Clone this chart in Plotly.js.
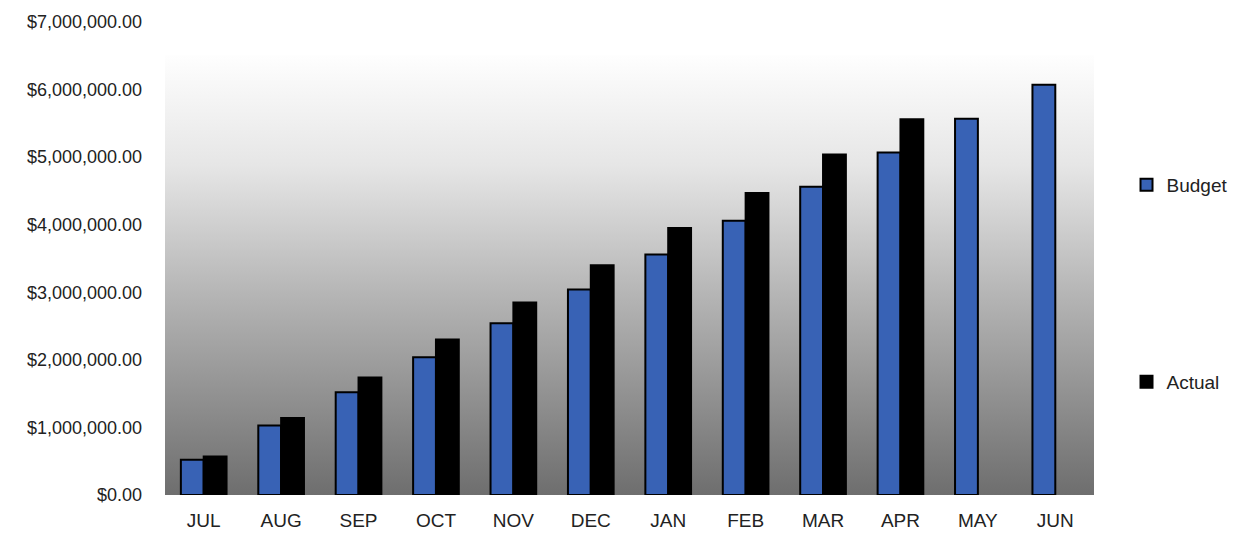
<!DOCTYPE html>
<html>
<head>
<meta charset="utf-8">
<script src="https://cdn.plot.ly/plotly-3.0.1.min.js"></script>
<style>html,body{margin:0;padding:0;background:#fff;}#chart{width:1250px;height:533px;}</style>
</head>
<body>
<div id="chart"></div>
<script>
const months = ["JUL","AUG","SEP","OCT","NOV","DEC","JAN","FEB","MAR","APR","MAY","JUN"];
const budget = [520000,1030000,1520000,2040000,2540000,3040000,3560000,4060000,4560000,5070000,5570000,6070000];
const actual = [570000,1140000,1740000,2300000,2850000,3400000,3950000,4470000,5040000,5560000,null,null];

const gradSvg = '<svg xmlns="http://www.w3.org/2000/svg" width="100" height="100" preserveAspectRatio="none">' +
  '<defs><linearGradient id="g" x1="0" y1="0" x2="0" y2="1">' +
  '<stop offset="0" stop-color="#fefefe"/><stop offset="0.25" stop-color="#e6e6e6"/>' +
  '<stop offset="0.55" stop-color="#b4b4b4"/><stop offset="1" stop-color="#6e6e6e"/>' +
  '</linearGradient></defs><rect width="100" height="100" fill="url(#g)"/></svg>';
const gradUrl = 'data:image/svg+xml;base64,' + btoa(gradSvg);

const fam = '"Liberation Sans", Arial, sans-serif';
const legFont = {family: fam, size: 19, color: '#222'};

const traces = [
  {type: 'bar', name: 'Budget', x: months, y: budget, legend: 'legend',
   marker: {color: '#3862b5', line: {color: '#000', width: 2}}},
  {type: 'bar', name: 'Actual', x: months, y: actual, legend: 'legend2',
   marker: {color: '#000', line: {color: '#000', width: 2}}}
];

const layout = {
  width: 1250, height: 533,
  margin: {l: 165, r: 156, t: 22, b: 38},
  paper_bgcolor: '#fff',
  plot_bgcolor: 'rgba(0,0,0,0)',
  font: {family: fam, size: 18, color: '#222'},
  barmode: 'group',
  bargap: 0.41,
  bargroupgap: 0,
  showlegend: true,
  legend: {x: 1.035, xanchor: 'left', y: (495 - 185) / 473, yanchor: 'middle', font: legFont,
           bgcolor: 'rgba(0,0,0,0)'},
  legend2: {x: 1.035, xanchor: 'left', y: (495 - 382) / 473, yanchor: 'middle', font: legFont,
           bgcolor: 'rgba(0,0,0,0)'},
  xaxis: {showgrid: false, zeroline: false, showline: false, ticks: '', ticklabelstandoff: 12,
          tickfont: {family: fam, size: 19, color: '#222'}},
  yaxis: {range: [0, 7000000], dtick: 1000000, showgrid: false, zeroline: false, showline: false,
          tickprefix: '$', tickformat: ',.2f', ticks: '', ticklabelstandoff: 22,
          tickfont: {family: fam, size: 18, color: '#222'}},
  images: [{source: gradUrl, xref: 'paper', yref: 'paper', x: 0, y: 0.93, sizex: 1, sizey: 0.93,
            xanchor: 'left', yanchor: 'top', sizing: 'stretch', layer: 'below'}]
};

Plotly.newPlot('chart', traces, layout, {displayModeBar: false, staticPlot: true});
</script>
</body>
</html>
